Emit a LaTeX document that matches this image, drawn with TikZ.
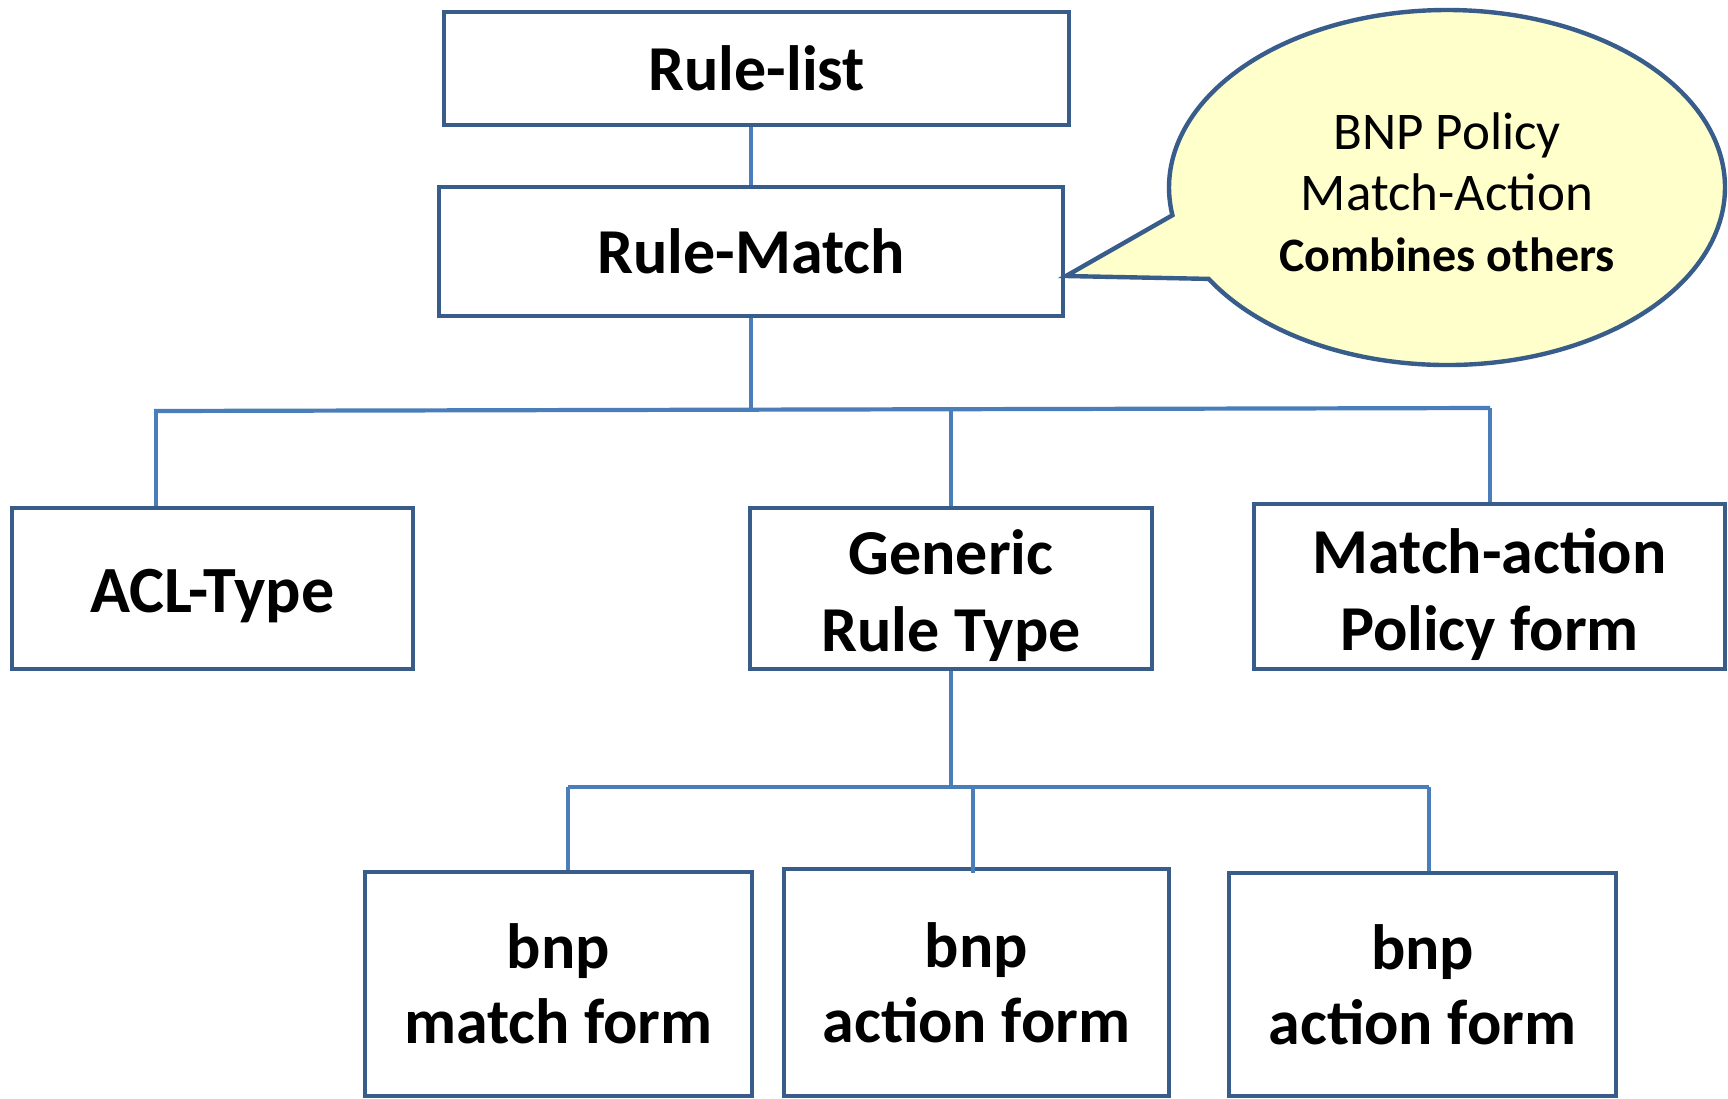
\documentclass[tikz,border=0pt]{standalone}
\usepackage{fontspec}
\setmainfont{Carlito}
\usetikzlibrary{shapes.callouts}
\definecolor{boxblue}{HTML}{385D8A}
\definecolor{linkblue}{HTML}{4A7EBB}
\definecolor{calloutfill}{HTML}{FFFFCC}
\newcommand\topstrut[1]{\rule{0pt}{#1}}
\begin{document}
\begin{tikzpicture}[x=0.5pt,y=-0.5pt,
  box/.style={draw=boxblue, line width=2.4pt, fill=white, align=center, inner sep=0pt,
    font=\fontsize{32}{38.5}\selectfont\bfseries},
  lowbox/.style={box, font=\fontsize{32}{37.5}\selectfont\bfseries},
  link/.style={draw=linkblue, line width=2.1pt}]
\fill[white] (0,0) rectangle (1728,1098);
\useasboundingbox (0,0) rectangle (1728,1098);
% boxes
\node[box, minimum width=312.5pt, minimum height=56.5pt] (RL) at (756.5,68.5) {Rule-list};
\node[box, minimum width=312pt, minimum height=64.5pt] (RM) at (751,251.5) {Rule-Match};
\node[box, minimum width=200.5pt, minimum height=80.5pt, font=\fontsize{33}{40}\selectfont\bfseries] (ACL) at (212.5,588.5) {\topstrut{29pt}ACL-Type};
\node[box, minimum width=201pt, minimum height=80.5pt] (GR) at (951,588.5) {\topstrut{30pt}Generic\\Rule Type};
\node[box, minimum width=235.5pt, minimum height=82.5pt] (MA) at (1489.5,586.5) {\topstrut{30.5pt}Match-action\\Policy form};
\node[lowbox, minimum width=193.5pt, minimum height=112pt] (BM) at (558.5,984) {bnp\\match form};
\node[lowbox, minimum width=192.5pt, minimum height=113.5pt] (BA1) at (976.5,982.5) {bnp\\action form};
\node[lowbox, minimum width=193.5pt, minimum height=111.5pt] (BA2) at (1422.5,984.5) {bnp\\action form};
% callout
\node[ellipse callout, draw=boxblue, line width=2.2pt, fill=calloutfill, inner sep=0pt,
  minimum width=278pt, minimum height=177.5pt,
  callout absolute pointer={(1066,276)}, callout pointer arc=22,
  align=center, font=\fontsize{26.5}{30.5}\selectfont] (CO) at (1447,187.5)
  {\topstrut{23pt}BNP Policy\\Match-Action\\{\fontsize{24}{30}\selectfont\bfseries Combines others}};
% connectors
\draw[link] (RM.north |- RL.south) -- (RM.north);
\coordinate (b1L) at (154,411);
\coordinate (b1R) at (1490,408);
\coordinate (b1M) at (751,410);
\draw[link] (b1L) -- (b1R);
\draw[link] (RM.south) -- (b1M);
\coordinate (aclTop) at (156,411);
\draw[link] (aclTop) -- (aclTop |- ACL.north);
\draw[link] (GR.north |- b1M) -- (GR.north);
\draw[link] (b1R) -- (b1R |- MA.north);
\coordinate (b2L) at (568,787);
\coordinate (b2R) at (1429,787);
\coordinate (b2M) at (973,787);
\draw[link] (b2L) -- (b2R);
\draw[link] (GR.south) -- (GR.south |- b2L);
\draw[link] (b2L) -- (b2L |- BM.north);
\draw[link] (b2M) -- ([yshift=-3pt]b2M |- BA1.north);
\draw[link] (b2R) -- (b2R |- BA2.north);
\end{tikzpicture}
\end{document}
